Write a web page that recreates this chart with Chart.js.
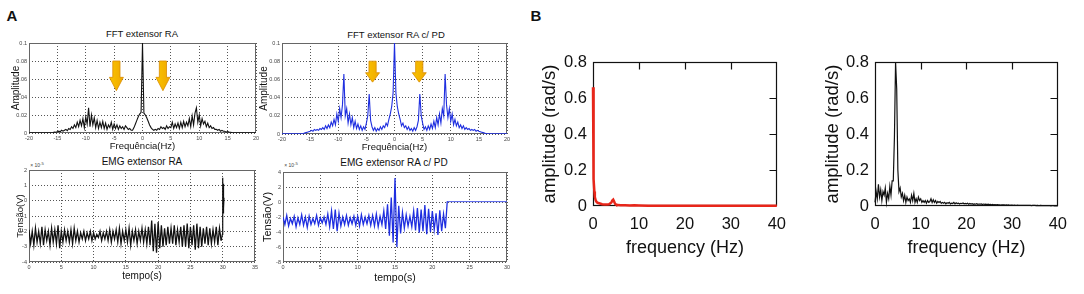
<!DOCTYPE html>
<html><head><meta charset="utf-8">
<script src="https://cdn.jsdelivr.net/npm/chart.js@4.4.1/dist/chart.umd.min.js"></script>
<style>
body{margin:0;background:#fff;width:1084px;height:294px;overflow:hidden;position:relative;font-family:"Liberation Sans",Arial,sans-serif;}
canvas{position:absolute;}
.t{position:absolute;white-space:nowrap;transform:translate(-50%,-50%);color:#111;line-height:1;}
</style></head><body>
<div class="t" style="left:12px;top:15px;font-size:15px;font-weight:bold;">A</div>
<div class="t" style="left:536px;top:15px;font-size:15px;font-weight:bold;">B</div>
<div class="t" style="left:142px;top:34px;font-size:9.5px;">FFT extensor RA</div>
<div class="t" style="left:396px;top:35px;font-size:9.5px;">FFT extensor RA c/ PD</div>
<div class="t" style="left:142px;top:162px;font-size:10px;">EMG extensor RA</div>
<div class="t" style="left:394px;top:163px;font-size:10px;">EMG extensor RA c/ PD</div>
<div class="t" style="left:37px;top:165px;font-size:5px;color:#444;">× 10<sup>-5</sup></div>
<div class="t" style="left:291px;top:165px;font-size:5px;color:#444;">× 10<sup>-5</sup></div>
<canvas id="c1" width="265" height="160" style="left:0;top:0"></canvas>
<canvas id="c2" width="265" height="160" style="left:253px;top:0"></canvas>
<canvas id="c3" width="265" height="144" style="left:0;top:150px"></canvas>
<canvas id="c4" width="265" height="144" style="left:253px;top:150px"></canvas>
<canvas id="c5" width="265" height="270" style="left:530px;top:0"></canvas>
<canvas id="c6" width="276" height="270" style="left:800px;top:0"></canvas>
<script>
// ---------- DATA ----------
// FFT spectra (panel A, top), frequency grid starts at -20 Hz, step 0.25 Hz
const fftStart = -20, fftStep = 0.25;
const fftRA = [
0.0003,0.0003,0.0003,0.0003,0.0003,0.0003,0.0003,0.0003,0.0003,0.0003,0.0003,0.0003,0.0003,0.0003,0.0003,0.0003,0.0003,
0.0005,0.001,0.0008,0.0015,
0.002,0.0015,0.003,0.002,
0.003,0.004,0.0025,0.005,
0.004,0.007,0.005,0.009,
0.006,0.012,0.007,0.014,
0.008,0.016,0.006,0.018,
0.01,0.028,0.007,0.02,
0.009,0.017,0.006,0.014,
0.005,0.012,0.006,0.013,
0.005,0.011,0.004,0.009,
0.006,0.012,0.004,0.01,
0.005,0.009,0.004,0.008,
0.005,0.007,0.004,0.008,
0.006,0.004,0.005,0.003,
0.003,0.006,0.01,0.014,
0.018,0.021,0.023,
0.1,
0.022,0.02,0.017,
0.013,0.009,0.006,0.004,
0.003,0.004,0.003,0.005,
0.004,0.007,0.005,0.006,
0.004,0.008,0.005,0.007,
0.006,0.012,0.005,0.01,
0.006,0.011,0.005,0.012,
0.006,0.013,0.007,0.012,
0.008,0.016,0.007,0.019,
0.009,0.022,0.028,0.012,
0.02,0.008,0.016,0.01,
0.013,0.007,0.011,0.006,
0.008,0.005,0.006,0.004,
0.004,0.003,0.004,0.002,
0.003,0.002,0.002,0.001,
0.0015,0.001,0.0008,0.0005,
0.0003,0.0003,0.0003,0.0003,0.0003,0.0003,0.0003,0.0003,0.0003,0.0003,0.0003,0.0003,0.0003,0.0003,0.0003,0.0003,0.0003
];
const fftPD = [
0.0003,0.0003,0.0003,0.0003,0.0003,0.0003,0.0003,0.0003,0.0003,0.0003,0.0003,0.0003,0.0003,0.0003,0.0003,0.0003,0.001,
0.0015,0.002,0.0025,0.003,
0.004,0.003,0.005,0.004,
0.005,0.004,0.006,0.005,
0.007,0.005,0.009,0.006,
0.01,0.007,0.013,0.009,
0.016,0.01,0.022,0.014,
0.028,0.018,0.032,0.066,
0.02,0.028,0.012,0.022,
0.01,0.018,0.007,0.014,
0.006,0.011,0.005,0.009,
0.004,0.008,0.005,0.012,
0.02,0.044,0.015,0.008,
0.004,0.007,0.003,0.006,
0.004,0.008,0.005,0.009,
0.007,0.012,0.009,0.016,
0.022,0.03,0.045,
0.1,
0.045,0.03,0.022,
0.016,0.009,0.012,0.007,
0.009,0.005,0.008,0.004,
0.006,0.003,0.007,0.004,
0.008,0.015,0.044,0.02,
0.012,0.005,0.008,0.004,
0.009,0.005,0.011,0.006,
0.014,0.007,0.018,0.01,
0.022,0.012,0.028,0.02,
0.066,0.032,0.018,0.028,
0.014,0.022,0.01,0.016,
0.009,0.013,0.007,0.01,
0.006,0.009,0.005,0.007,
0.005,0.006,0.004,0.005,
0.004,0.005,0.003,0.004,
0.003,0.0025,0.002,0.0015,
0.001,0.0003,0.0003,0.0003,0.0003,0.0003,0.0003,0.0003,0.0003,0.0003,0.0003,0.0003,0.0003,0.0003,0.0003,0.0003,0.0003
];
const fftTicksX = [-20,-15,-10,-5,0,5,10,15,20];
const fftTicksY = [0,0.02,0.04,0.06,0.08,0.1];
const arrowRAX = [-4.6, 3.6], arrowRATop = 0.08, arrowRATip = 0.047;
const arrowPDX = [-3.9, 4.4], arrowPDTop = 0.08, arrowPDTip = 0.057;

// EMG traces (panel A, bottom), values in units of 1e-5 V, time step 0.25 s from 0 s
const emgStep = 0.25;
const emgRA = [
-1.9,-2.8,-2.0,-2.9,-1.8,-2.7,-2.0,-2.8,
-1.7,-2.9,-1.9,-2.6,-2.0,-2.9,-1.8,-2.7,
-1.9,-2.8,-1.6,-3.1,-2.0,-2.7,-1.9,-2.6,
-2.0,-2.7,-1.9,-2.8,-1.8,-2.6,-2.0,-2.7,
-2.1,-2.5,-2.0,-2.6,-2.1,-2.5,-2.0,-2.6,
-2.1,-2.5,-2.2,-2.4,-2.0,-2.6,-2.1,-2.5,
-2.0,-2.6,-1.9,-2.7,-2.0,-2.5,-1.9,-2.7,
-1.8,-2.8,-2.0,-2.6,-1.9,-2.7,-1.8,-2.9,
-2.0,-2.6,-1.9,-2.8,-2.0,-2.6,-1.8,-2.7,
-1.9,-2.8,-1.7,-2.9,-1.3,-3.3,-1.5,-3.4,
-1.4,-3.1,-1.6,-3.0,-1.8,-2.9,-1.7,-2.8,
-1.8,-2.8,-1.6,-2.9,-1.9,-2.7,-1.7,-3.0,
-1.6,-3.0,-1.5,-3.1,-1.7,-2.9,-1.6,-3.2,
-1.5,-3.1,-1.7,-3.0,-1.8,-2.8,-1.7,-2.9,
-1.8,-2.8,-1.9,-2.7,-1.7,-2.9,-1.8,-2.6
];
const emgRAEndT = [29.75, 29.95, 30.0, 30.05, 30.1, 30.15, 30.2];
const emgRAEndV = [-2.6, -2.2, 1.5, -0.8, 1.1, -0.5, 0.2];
const emgPD = [
-2.0,-3.0,-1.8,-3.2,-2.2,-2.9,-1.9,-3.3,
-2.1,-3.0,-1.7,-3.1,-2.0,-3.4,-1.9,-3.0,
-2.2,-2.9,-1.8,-3.1,-2.1,-2.8,-2.0,-3.0,
-1.6,-3.3,-1.2,-3.6,-1.0,-3.9,-1.5,-3.2,
-2.0,-3.0,-1.8,-3.1,-2.1,-2.9,-1.9,-3.1,
-1.9,-3.2,-1.7,-3.0,-2.0,-2.9,-1.8,-3.1,
-1.8,-3.2,-1.6,-3.3,-1.9,-3.0,-1.2,-3.6,
-0.3,-4.5,0.6,-5.4,3.2,-6.0,-0.5,-4.2,
-1.4,-3.5,-1.7,-3.2,-1.9,-3.3,-1.2,-3.8,
-0.8,-4.1,-1.0,-3.9,-0.4,-4.3,-0.9,-4.0,
-1.2,-3.7,-1.5,-4.4,-1.1,-3.9,-1.6,-3.5,
0.1
];
const emgPDTailT = [22, 30];
const emgPDTailV = [0.05, 0.05];
const emgRATicksX = [0,5,10,15,20,25,30,35];
const emgRATicksY = [-4,-3,-2,-1,0,1,2];
const emgPDTicksX = [0,5,10,15,20,25,30];
const emgPDTicksY = [-8,-6,-4,-2,0,2,4];

// Panel B spectra
const redF = [0,0.05,0.1,0.15,0.2,0.3,0.4,0.6,0.8,1,1.5,2,2.5,3,3.5,4,4.2,4.4,4.6,4.8,5,5.5,6,7,8,9,10,12,15,20,25,30,35,40];
const redA = [0.66,0.62,0.55,0.3,0.15,0.08,0.05,0.03,0.022,0.018,0.014,0.01,0.008,0.008,0.01,0.02,0.03,0.035,0.025,0.012,0.008,0.005,0.004,0.004,0.003,0.004,0.003,0.002,0.002,0.001,0.001,0.001,0.001,0.001];
const blkStart = 0, blkStep = 0.25;
const blkA = [
0.02,0.08,0.04,0.12,
0.05,0.09,0.03,0.08,
0.06,0.1,0.02,0.07,
0.04,0.11,0.06,0.14,
0.14,0.38,0.8,0.65,
0.2,0.08,0.1,0.05,
0.07,0.03,0.06,0.02,
0.05,0.03,0.04,0.02,
0.06,0.03,0.07,0.02,
0.04,0.02,0.05,0.03,
0.04,0.02,0.03,0.02,
0.03,0.015,0.03,0.02,
0.025,0.04,0.02,0.035,
0.02,0.03,0.015,0.025,
0.02,0.025,0.015,0.02,
0.015,0.02,0.012,0.018,0.015,0.02,0.012,0.016,0.014,0.02,0.012,0.018,0.013,0.016,0.011,0.015,0.013,0.017,0.012,0.014,
0.012,0.015,0.01,0.014,0.011,0.013,0.009,0.012,0.01,0.013,0.009,0.011,0.01,0.012,0.008,0.011,0.009,0.01,0.008,0.01,
0.008,0.009,0.007,0.009,0.006,0.008,0.007,0.008,0.006,0.007,0.005,0.007,0.006,0.006,0.005,0.006,0.005,0.006,0.004,0.005,
0.005,0.004,0.005,0.004,0.004,0.005,0.003,0.004,0.004,0.003,0.004,0.003,0.003,0.004,0.003,0.003,0.003,0.002,0.003,0.003,
0.003,0.002,0.003,0.002,0.002,0.003,0.002,0.002,0.002,0.002,0.002,0.002,0.002,0.002,0.001,0.002,0.002,0.001,0.002,0.001,0.001
];
const bTicksX = [0,10,20,30,40];
const bTicksY = [0,0.2,0.4,0.6,0.8];

// ---------- RENDERING ----------
const FONT = "'Liberation Sans', Arial, sans-serif";
const gridXY = (start, step, vals) => vals.map((v, i) => ({x: start + i * step, y: v}));
const pairs = (xs, ys) => xs.map((x, i) => ({x: x, y: ys[i]}));
const fmt = v => String(+(+v).toFixed(4));

const framePlugin = {
  id: 'frame',
  beforeDatasetsDraw(chart, args, o) {
    const {ctx, chartArea: a, scales: {x, y}} = chart;
    ctx.save();
    ctx.strokeStyle = o.color; ctx.lineWidth = o.width;
    const L = Math.round(a.left) + 0.5, T = Math.round(a.top) + 0.5;
    const R = Math.round(a.right) - 0.5, B = Math.round(a.bottom) - 0.5;
    ctx.strokeRect(L, T, R - L, B - T);
    if (o.inTicks) {
      ctx.beginPath();
      x.ticks.forEach(t => {
        if (t.value === x.min || t.value === x.max) return;
        const px = Math.round(x.getPixelForValue(t.value)) + 0.5;
        ctx.moveTo(px, T); ctx.lineTo(px, T + o.inTicks);
      });
      y.ticks.forEach(t => {
        if (t.value === y.min || t.value === y.max) return;
        const py = Math.round(y.getPixelForValue(t.value)) + 0.5;
        ctx.moveTo(R, py); ctx.lineTo(R - o.inTicks, py);
      });
      ctx.stroke();
    }
    ctx.restore();
  },
  afterDatasetsDraw(chart, args, o) {
    if (!o.arrows) return;
    const {ctx, scales: {x, y}} = chart;
    ctx.save();
    o.arrows.xs.forEach(v => {
      const cx = x.getPixelForValue(v);
      const yt = y.getPixelForValue(o.arrows.top);
      const yb = y.getPixelForValue(o.arrows.tip);
      const hh = (yb - yt) * 0.45, hw = 7, bw = 3.6;
      const g = ctx.createLinearGradient(cx - hw, 0, cx + hw, 0);
      g.addColorStop(0, '#f9c400'); g.addColorStop(1, '#f0a800');
      ctx.beginPath();
      ctx.moveTo(cx - bw, yt); ctx.lineTo(cx + bw, yt);
      ctx.lineTo(cx + bw, yb - hh); ctx.lineTo(cx + hw, yb - hh);
      ctx.lineTo(cx, yb); ctx.lineTo(cx - hw, yb - hh);
      ctx.lineTo(cx - bw, yb - hh); ctx.closePath();
      ctx.fillStyle = g; ctx.fill();
      ctx.strokeStyle = '#d98c00'; ctx.lineWidth = 0.8; ctx.stroke();
    });
    ctx.restore();
  }
};

function makeChart(id, o) {
  const axis = (min, max, ticks, size, pad, title, tsize, tpad, isX) => ({
    type: 'linear', min: min, max: max,
    afterFit: s => { if (isX) s.height = size; else s.width = size; },
    afterBuildTicks: s => { s.ticks = ticks.map(v => ({value: v})); },
    ticks: {autoSkip: false, maxRotation: 0, padding: pad, color: o.tickColor,
            font: {family: FONT, size: o.tickSize}, callback: v => fmt(v)},
    grid: {display: o.grid, color: '#555', lineWidth: 1, drawTicks: false, tickLength: 0},
    border: {display: false, dash: [1, 2]},
    title: {display: true, text: title, color: '#111', padding: tpad,
            font: {family: FONT, size: tsize}}
  });
  return new Chart(document.getElementById(id), {
    type: 'line',
    data: {datasets: o.datasets.map(d => Object.assign({pointRadius: 0, tension: 0, fill: false, borderJoinStyle: 'miter'}, d))},
    options: {
      responsive: false, animation: false, events: [],
      layout: {padding: o.pad},
      plugins: {legend: {display: false}, tooltip: {enabled: false}, frame: o.frame},
      scales: {
        x: axis(o.x[0], o.x[1], o.xt, o.xH, o.xPad, o.xTitle, o.xTitleSize, {bottom: o.xTitlePad, top: 0}, true),
        y: axis(o.y[0], o.y[1], o.yt, o.yW, o.yPad, o.yTitle, o.yTitleSize, {top: o.yTitlePad, bottom: 0}, false)
      }
    },
    plugins: [framePlugin]
  });
}

const aFrame = {color: '#666', width: 1};
const aCommon = {grid: true, tickSize: 5.5, tickColor: '#444'};

makeChart('c1', Object.assign({}, aCommon, {
  pad: {left: 0, top: 43, right: 9, bottom: 0}, yW: 29, xH: 27,
  x: [-20, 20], xt: fftTicksX, y: [0, 0.1], yt: fftTicksY,
  xPad: 2, yPad: 2, xTitle: 'Frequência(Hz)', xTitleSize: 9.5, xTitlePad: 7.5,
  yTitle: 'Amplitude', yTitleSize: 10, yTitlePad: 10.5,
  frame: Object.assign({arrows: {xs: arrowRAX, top: arrowRATop, tip: arrowRATip}}, aFrame),
  datasets: [{data: gridXY(fftStart, fftStep, fftRA), borderColor: '#111', borderWidth: 1.1}]
}));

makeChart('c2', Object.assign({}, aCommon, {
  pad: {left: 0, top: 43, right: 11, bottom: 0}, yW: 29, xH: 26,
  x: [-20, 20], xt: fftTicksX, y: [0, 0.1], yt: fftTicksY,
  xPad: 2, yPad: 2, xTitle: 'Frequência(Hz)', xTitleSize: 9.5, xTitlePad: 6.5,
  yTitle: 'Amplitude', yTitleSize: 10, yTitlePad: 5.5,
  frame: Object.assign({arrows: {xs: arrowPDX, top: arrowPDTop, tip: arrowPDTip}}, aFrame),
  datasets: [{data: gridXY(fftStart, fftStep, fftPD), borderColor: '#1f2fe0', borderWidth: 1.1}]
}));

makeChart('c3', Object.assign({}, aCommon, {
  pad: {left: 0, top: 20, right: 10, bottom: 0}, yW: 29, xH: 32,
  x: [0, 35], xt: emgRATicksX, y: [-4, 2], yt: emgRATicksY,
  xPad: 2, yPad: 2, xTitle: 'tempo(s)', xTitleSize: 10, xTitlePad: 11.5,
  yTitle: 'Tensão(V)', yTitleSize: 9.5, yTitlePad: 14.5,
  frame: aFrame,
  datasets: [
    {data: gridXY(0, emgStep, emgRA), borderColor: '#111', borderWidth: 1.3},
    {data: pairs(emgRAEndT, emgRAEndV), borderColor: '#111', borderWidth: 1.2}
  ]
}));

makeChart('c4', Object.assign({}, aCommon, {
  pad: {left: 0, top: 22, right: 11, bottom: 0}, yW: 30, xH: 32,
  x: [0, 30], xt: emgPDTicksX, y: [-8, 4], yt: emgPDTicksY,
  xPad: 2, yPad: 2, xTitle: 'tempo(s)', xTitleSize: 10.5, xTitlePad: 10,
  yTitle: 'Tensão(V)', yTitleSize: 11, yTitlePad: 8,
  frame: aFrame,
  datasets: [
    {data: gridXY(0, emgStep, emgPD), borderColor: '#1f2fe0', borderWidth: 1.3},
    {data: pairs(emgPDTailT, emgPDTailV), borderColor: '#4a58e8', borderWidth: 1}
  ]
}));

const bCommon = {grid: false, tickSize: 16.5, tickColor: '#111'};
makeChart('c5', Object.assign({}, bCommon, {
  pad: {left: 0, top: 62, right: 10, bottom: 0}, yW: 63, xH: 64,
  x: [0, 40], xt: bTicksX, y: [0, 0.8], yt: bTicksY,
  xPad: 9, yPad: 6, xTitle: 'frequency (Hz)', xTitleSize: 18, xTitlePad: 11.5,
  yTitle: 'amplitude (rad/s)', yTitleSize: 18.5, yTitlePad: 9,
  frame: {color: '#111', width: 1.2, inTicks: 7},
  datasets: [{data: pairs(redF, redA), borderColor: '#e8261a', borderWidth: 2.5, clip: 3}]
}));

makeChart('c6', Object.assign({}, bCommon, {
  pad: {left: 0, top: 62, right: 10, bottom: 0}, yW: 75, xH: 64,
  x: [0, 40], xt: bTicksX, y: [0, 0.8], yt: bTicksY,
  xPad: 9, yPad: 6, xTitle: 'frequency (Hz)', xTitleSize: 18, xTitlePad: 11.5,
  yTitle: 'amplitude (rad/s)', yTitleSize: 18.5, yTitlePad: 22,
  frame: {color: '#111', width: 1.2, inTicks: 7},
  datasets: [{data: gridXY(blkStart, blkStep, blkA), borderColor: '#111', borderWidth: 1.2, clip: 2}]
}));
</script>
</body></html>
